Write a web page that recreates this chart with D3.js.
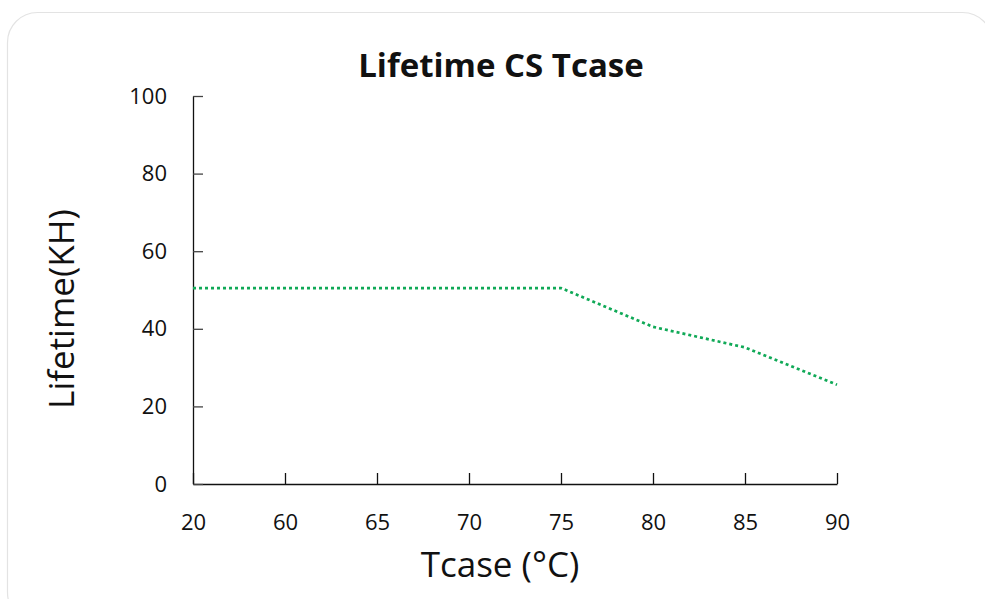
<!DOCTYPE html>
<html>
<head>
<meta charset="utf-8">
<script src="https://cdn.jsdelivr.net/npm/d3@7"></script>
<style>
body { margin: 0; background: #fff; }
text { font-family: "Open Sans", "Noto Sans", sans-serif; fill: #111; }
</style>
</head>
<body>
<svg id="chart"></svg>
<script>
var tcase = ["20", "60", "65", "70", "75", "80", "85", "90"]
var lifetime = [50.5, 50.5, 50.5, 50.5, 50.5, 40.5, 35.2, 25.6]
var yTicks = [0, 20, 40, 60, 80, 100]

var screen = {width: 985, height: 599}
var margins = {left: 193, right: 148, top: 96, bottom: 115}
var graph = {
	width: screen.width - margins.left - margins.right,
	height: screen.height - margins.top - margins.bottom
}

var svg = d3.select("#chart")
	.attr("width", screen.width)
	.attr("height", screen.height)

// card border
svg.append("rect")
	.attr("x", 7.5).attr("y", 12.5)
	.attr("width", 985).attr("height", 610)
	.attr("rx", 30)
	.attr("fill", "none")
	.attr("stroke", "#e3e3e3")
	.attr("stroke-width", 1.2)

var xScale = d3.scalePoint()
	.domain(tcase)
	.range([0, graph.width])

var yScale = d3.scaleLinear()
	.domain([0, 100])
	.range([graph.height, 0])

var target = svg.append("g")
	.attr("transform", "translate(" + margins.left + "," + margins.top + ")")

//---------axes---------
var xAxis = d3.axisBottom(xScale).tickSizeInner(-11).tickSizeOuter(0).tickPadding(30)
var gx = target.append("g")
	.attr("transform", "translate(0," + graph.height + ")")
	.call(xAxis)

var yAxis = d3.axisLeft(yScale).tickValues(yTicks).tickSizeInner(-10).tickSizeOuter(0).tickPadding(26)
var gy = target.append("g").call(yAxis)

gx.attr("font-size", 22).attr("font-family", null)
gy.attr("font-size", 22).attr("font-family", null)
gx.selectAll("text").attr("fill", "#111")
gy.selectAll("text").attr("fill", "#111")
gx.selectAll("line, path").attr("stroke", "#111").attr("stroke-width", 1.3)
gy.selectAll("line, path").attr("stroke", "#111").attr("stroke-width", 1.3)
gy.selectAll(".tick line").attr("stroke", "#444")

//---------line---------
var line = d3.line()
	.x(function(d, i) { return xScale(tcase[i]) })
	.y(function(d) { return yScale(d) })

target.append("path")
	.datum(lifetime)
	.attr("d", line)
	.attr("fill", "none")
	.attr("stroke", "#10a957")
	.attr("stroke-width", 2.7)
	.attr("stroke-dasharray", "3,3")

//--------labels-------
svg.append("text")
	.attr("x", 501).attr("y", 77)
	.attr("text-anchor", "middle")
	.attr("font-size", 33)
	.attr("font-weight", "bold")
	.text("Lifetime CS Tcase")

svg.append("text")
	.attr("x", 500).attr("y", 577)
	.attr("text-anchor", "middle")
	.attr("font-size", 35)
	.text("Tcase (°C)")

svg.append("text")
	.attr("transform", "translate(74,309) rotate(-90)")
	.attr("text-anchor", "middle")
	.attr("font-size", 35)
	.text("Lifetime(KH)")
</script>
</body>
</html>
